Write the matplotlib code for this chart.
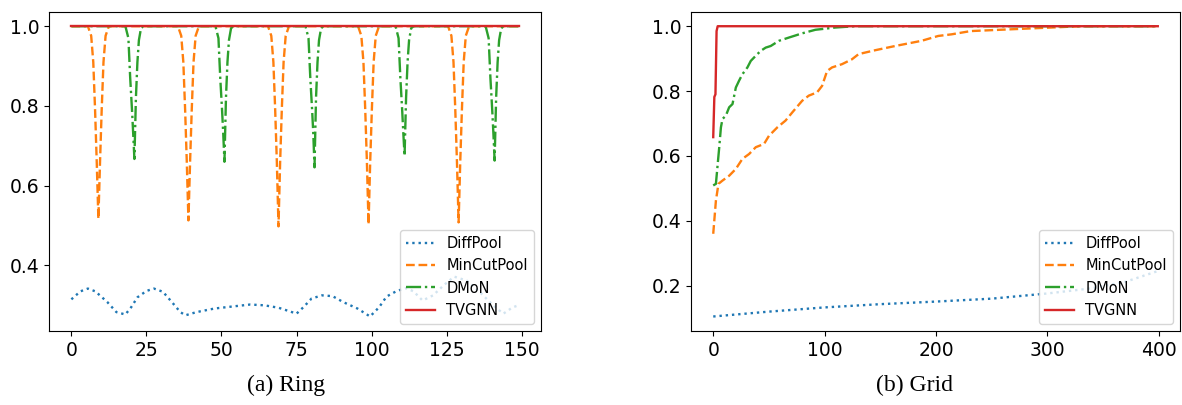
import matplotlib
matplotlib.use("Agg")
import matplotlib.pyplot as plt

# ---------------- Ring data ----------------
ring_x_diff = [0, 3, 5.5, 8, 12, 15, 18, 20, 22, 25, 27.5, 30.5, 33.5, 36.3, 38, 41.7,
               47.7, 53.6, 59.6, 64.3, 69, 72.7, 75, 77.4, 80, 83.5, 87, 90.6, 95.3,
               99.5, 102.5, 105, 108.4, 111.5, 114, 117, 120.5, 124, 127.5, 131.7,
               136.1, 140.5, 143.9, 147, 149]
ring_y_diff = [0.315, 0.335, 0.342, 0.335, 0.308, 0.283, 0.277, 0.296, 0.320, 0.336,
               0.342, 0.334, 0.308, 0.283, 0.275, 0.283, 0.292, 0.297, 0.302, 0.300,
               0.294, 0.285, 0.279, 0.296, 0.317, 0.325, 0.323, 0.308, 0.292, 0.272,
               0.295, 0.322, 0.336, 0.343, 0.335, 0.312, 0.325, 0.350, 0.372, 0.362,
               0.333, 0.300, 0.279, 0.295, 0.300]

ring_x_mincut = [0,
                 5.5, 6.6, 7.3, 7.9, 8.45, 9, 9.55, 10.1, 10.7, 11.4, 12.5,
                 35.5, 36.6, 37.3, 37.9, 38.45, 39, 39.55, 40.1, 40.7, 41.4, 42.5,
                 65.5, 66.6, 67.3, 67.9, 68.45, 69, 69.55, 70.1, 70.7, 71.4, 72.5,
                 95.5, 96.6, 97.3, 97.9, 98.45, 99, 99.55, 100.1, 100.7, 101.4, 102.5,
                 125.5, 126.6, 127.3, 127.9, 128.45, 129, 129.55, 130.1, 130.7, 131.4, 132.5,
                 149]
ring_y_mincut = [1.0,
                 1.0, 0.976, 0.91, 0.79, 0.66, 0.517, 0.66, 0.79, 0.91, 0.976, 1.0,
                 1.0, 0.976, 0.91, 0.79, 0.66, 0.513, 0.66, 0.79, 0.91, 0.976, 1.0,
                 1.0, 0.976, 0.91, 0.79, 0.66, 0.498, 0.66, 0.79, 0.91, 0.976, 1.0,
                 1.0, 0.976, 0.91, 0.79, 0.66, 0.503, 0.66, 0.79, 0.91, 0.976, 1.0,
                 1.0, 0.976, 0.91, 0.79, 0.66, 0.508, 0.66, 0.79, 0.91, 0.976, 1.0,
                 1.0]

ring_x_dmon = [0,
               18, 19, 19.6, 20.2, 20.6, 21, 21.5, 22, 22.5, 23.2, 24,
               48, 49, 49.6, 50.2, 50.6, 51, 51.5, 52, 52.5, 53.2, 54,
               78, 79, 79.6, 80.2, 80.6, 81, 81.5, 82, 82.5, 83.2, 84,
               108, 109, 109.6, 110.2, 110.6, 111, 111.5, 112, 112.5, 113.2, 114,
               138, 139, 139.6, 140.2, 140.6, 141, 141.5, 142, 142.5, 143.2, 144,
               149]
ring_y_dmon = [1.0,
               1.0, 0.97, 0.87, 0.79, 0.73, 0.667, 0.82, 0.91, 0.965, 0.995, 1.0,
               1.0, 0.97, 0.87, 0.79, 0.73, 0.660, 0.82, 0.91, 0.965, 0.995, 1.0,
               1.0, 0.97, 0.87, 0.79, 0.73, 0.646, 0.82, 0.91, 0.965, 0.995, 1.0,
               1.0, 0.97, 0.87, 0.79, 0.73, 0.675, 0.82, 0.91, 0.965, 0.995, 1.0,
               1.0, 0.97, 0.87, 0.79, 0.73, 0.663, 0.82, 0.91, 0.965, 0.995, 1.0,
               1.0]

ring_x_tvgnn = [0, 149]
ring_y_tvgnn = [1.0, 1.0]

# ---------------- Grid data ----------------
grid_x_diff = [0, 50, 100, 150, 200, 250, 300, 340, 370, 399]
grid_y_diff = [0.105, 0.120, 0.133, 0.143, 0.151, 0.160, 0.176, 0.192, 0.212, 0.245]

grid_x_mincut = [0, 2.4, 4.7, 8.3, 14.3, 20.3, 26.2, 32.2, 38.2, 45.6, 50, 57.5, 64.9,
                 70.9, 79.8, 85.8, 93.2, 97.7, 102.2, 106.7, 115.6, 124.5, 130.5,
                 145.4, 163.3, 187, 202, 214, 231, 264, 297, 330, 399]
grid_y_mincut = [0.360, 0.462, 0.514, 0.524, 0.539, 0.560, 0.591, 0.606, 0.627, 0.637,
                 0.662, 0.688, 0.709, 0.734, 0.770, 0.786, 0.796, 0.816, 0.862, 0.873,
                 0.883, 0.898, 0.914, 0.926, 0.939, 0.955, 0.970, 0.975, 0.985, 0.990,
                 0.995, 1.0, 1.0]

grid_x_dmon = [0, 2.4, 5.4, 6.9, 8.3, 11.3, 14.3, 17.3, 20.3, 23.2, 26.2, 30.7, 33.7,
               38.2, 42.6, 47.1, 51.6, 59, 67.9, 79.8, 91.7, 109.7, 127.5, 399]
grid_y_dmon = [0.509, 0.514, 0.627, 0.688, 0.714, 0.724, 0.750, 0.760, 0.811, 0.832,
               0.852, 0.873, 0.893, 0.909, 0.924, 0.934, 0.939, 0.955, 0.965, 0.978,
               0.989, 0.996, 1.0, 1.0]

grid_x_tvgnn = [0, 1, 2, 3, 4, 399]
grid_y_tvgnn = [0.658, 0.782, 0.790, 0.985, 1.0, 1.0]

labels = ["DiffPool", "MinCutPool", "DMoN", "TVGNN"]
captions = ["(a) Ring", "(b) Grid"]

# ---------------- Figure ----------------
W, H = 1182, 405
fig = plt.figure(figsize=(W / 100, H / 100), dpi=100)

ax1 = fig.add_axes([49 / W, (H - 331) / H, 492 / W, 319.3 / H])
ax2 = fig.add_axes([691 / W, (H - 331) / H, 489 / W, 319.3 / H])

lw = 1.7
styles = [dict(color="#1f77b4", ls=":"),
          dict(color="#ff7f0e", ls="--"),
          dict(color="#2ca02c", ls="-."),
          dict(color="#d62728", ls="-")]

ring = [(ring_x_diff, ring_y_diff), (ring_x_mincut, ring_y_mincut),
        (ring_x_dmon, ring_y_dmon), (ring_x_tvgnn, ring_y_tvgnn)]
grid = [(grid_x_diff, grid_y_diff), (grid_x_mincut, grid_y_mincut),
        (grid_x_dmon, grid_y_dmon), (grid_x_tvgnn, grid_y_tvgnn)]

for ax, data in ((ax1, ring), (ax2, grid)):
    for (xs, ys), lab, st in zip(data, labels, styles):
        ax.plot(xs, ys, label=lab, lw=lw, **st)
    ax.tick_params(labelsize=13.5)
    ax.legend(loc="lower right", fontsize=10.5)

ax1.set_xticks([0, 25, 50, 75, 100, 125, 150])
ax1.set_yticks([0.4, 0.6, 0.8, 1.0])
ax2.set_xticks([0, 100, 200, 300, 400])
ax2.set_yticks([0.2, 0.4, 0.6, 0.8, 1.0])

fig.text(286 / W, 1 - 385 / H, captions[0], ha="center", va="center",
         family="Liberation Serif", fontsize=17)
fig.text(915 / W, 1 - 385 / H, captions[1], ha="center", va="center",
         family="Liberation Serif", fontsize=17)

fig.savefig("out.png", dpi=100)
